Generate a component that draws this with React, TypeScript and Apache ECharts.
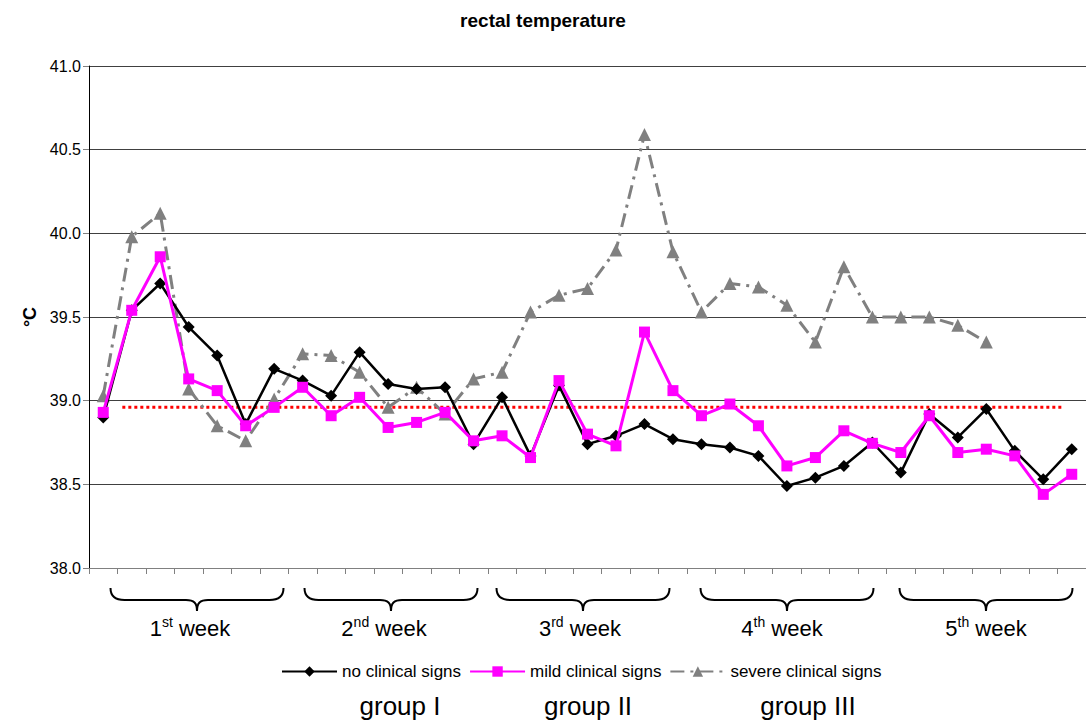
import React, { useEffect, useRef } from "react";
import * as echarts from "echarts";

// ---- data ----
const days = ["1","2","3","4","5","6","7","8","9","10","11","12","13","14","15","16","17","18","19","20","21","22","23","24","25","26","27","28","29","30","31","32","33","34","35"];

const noSigns = [38.90, 39.54, 39.70, 39.44, 39.27, 38.86, 39.19, 39.12, 39.03, 39.29, 39.10, 39.07, 39.08, 38.74, 39.02, 38.67, 39.09, 38.74, 38.79, 38.86, 38.77, 38.74, 38.72, 38.67, 38.49, 38.54, 38.61, 38.75, 38.57, 38.92, 38.78, 38.95, 38.70, 38.53, 38.71];
const mildSigns = [38.93, 39.54, 39.86, 39.13, 39.06, 38.85, 38.96, 39.08, 38.91, 39.02, 38.84, 38.87, 38.93, 38.76, 38.79, 38.66, 39.12, 38.80, 38.73, 39.41, 39.06, 38.91, 38.98, 38.85, 38.61, 38.66, 38.82, 38.745, 38.69, 38.91, 38.69, 38.71, 38.67, 38.44, 38.56];
const severeSigns = [39.03, 39.98, 40.12, 39.07, 38.85, 38.76, 39.01, 39.28, 39.27, 39.17, 38.96, 39.08, 38.92, 39.13, 39.17, 39.53, 39.63, 39.67, 39.90, 40.59, 39.89, 39.53, 39.70, 39.68, 39.57, 39.35, 39.80, 39.50, 39.50, 39.50, 39.45, 39.35, null, null, null];

const seriesNames = ["no clinical signs", "mild clinical signs", "severe clinical signs"];
const referenceTemp = 38.96;
const referenceSpan = [1.17, 34.2]; // in category-width units from the axis start

const yTicks = { min: 38, max: 41, interval: 0.5 };
const weekNumbers = ["1", "2", "3", "4", "5"];
const weekSuffixes = ["st", "nd", "rd", "th", "th"];
const groupLabels = ["group I", "group II", "group III"];

// ---- layout (pixels) ----
const braceCenters = [197, 391, 583, 787, 986];
const weekLabelCenters = [190, 384, 580, 782, 986];
const groupCenters = [400, 588, 808];
const BRACE_W = 173;

const FONT = "'Liberation Sans', Arial, Helvetica, sans-serif";

const W2 = BRACE_W / 2;
const braceD = `M0,0 C0,8 4,12 14,12 L${W2 - 11},12 C${W2 - 3},12 ${W2},15 ${W2},23 C${W2},15 ${W2 + 3},12 ${W2 + 11},12 L${BRACE_W - 14},12 C${BRACE_W - 4},12 ${BRACE_W},8 ${BRACE_W},0`;
echarts.graphic.registerShape("brace", echarts.graphic.extendPath(braceD, {}) as any);

export default function App() {
  const ref = useRef<HTMLDivElement>(null);

  useEffect(() => {
    if (!ref.current) return;
    const chart = echarts.init(ref.current, null, { renderer: "svg" });

    const graphics: any[] = [];
    braceCenters.forEach((cx) => {
      graphics.push({
        type: "brace",
        x: cx - BRACE_W / 2,
        y: 588,
        style: { fill: "none", stroke: "#000", lineWidth: 2 },
        silent: true,
      });
    });
    weekNumbers.forEach((n, i) => {
      graphics.push({
        type: "text",
        x: weekLabelCenters[i],
        y: 628,
        style: {
          text: `{n|${n}}{s|${weekSuffixes[i]}}{n| week}`,
          align: "center",
          verticalAlign: "middle",
          fill: "#000",
          rich: {
            n: { fontSize: 22, fontFamily: FONT, fill: "#000", lineHeight: 26 },
            s: { fontSize: 14, fontFamily: FONT, fill: "#000", verticalAlign: "top", lineHeight: 16 },
          },
        },
      });
    });
    groupLabels.forEach((g, i) => {
      graphics.push({
        type: "text",
        x: groupCenters[i],
        y: 706,
        style: {
          text: g,
          align: "center",
          verticalAlign: "middle",
          fontSize: 26,
          fontFamily: FONT,
          fill: "#000",
        },
      });
    });

    chart.setOption({
      animation: false,
      backgroundColor: "#fff",
      textStyle: { fontFamily: FONT },
      title: {
        text: "rectal temperature",
        left: "center",
        top: 6,
        textStyle: { fontSize: 19, fontWeight: "bold", color: "#000", fontFamily: FONT },
      },
      legend: {
        data: seriesNames,
        left: 281,
        top: 663,
        padding: 0,
        itemWidth: 55,
        itemHeight: 13,
        itemGap: 8,
        textStyle: { fontSize: 17, color: "#000", fontFamily: FONT },
      },
      grid: { left: 89, right: -9, top: 66, bottom: 157 },
      xAxis: [
        {
          type: "category",
          data: days,
          boundaryGap: true,
          axisLine: { lineStyle: { color: "#808080", width: 1 } },
          axisTick: { show: true, length: 6, interval: 0, lineStyle: { color: "#808080" } },
          axisLabel: { show: false },
          splitLine: { show: false },
        },
        {
          type: "value",
          min: 0,
          max: days.length,
          show: false,
        },
      ],
      yAxis: {
        type: "value",
        min: yTicks.min,
        max: yTicks.max,
        interval: yTicks.interval,
        name: "°C",
        nameLocation: "middle",
        nameGap: 50,
        nameTextStyle: { fontSize: 18, fontWeight: "bold", color: "#000", fontFamily: FONT },
        axisLine: { show: true, lineStyle: { color: "#000", width: 1 } },
        axisTick: { show: true, length: 6, lineStyle: { color: "#808080" } },
        axisLabel: {
          fontSize: 16,
          color: "#000",
          margin: 8,
          formatter: (v: number) => v.toFixed(1),
        },
        splitLine: { show: true, lineStyle: { color: "#404040", width: 1 } },
      },
      series: [
        {
          name: "reference",
          type: "line",
          xAxisIndex: 1,
          data: [
            [referenceSpan[0], referenceTemp],
            [referenceSpan[1], referenceTemp],
          ],
          symbol: "none",
          silent: true,
          lineStyle: { color: "#ff0000", width: 3, type: [3, 3], cap: "butt" },
          z: 1,
        },
        {
          name: seriesNames[2],
          type: "line",
          data: severeSigns,
          symbol: "triangle",
          symbolSize: 13,
          connectNulls: false,
          itemStyle: { color: "#808080" },
          lineStyle: { color: "#808080", width: 3, type: [14, 6, 3, 6] },
          z: 2,
        },
        {
          name: seriesNames[0],
          type: "line",
          data: noSigns,
          symbol: "diamond",
          symbolSize: 12,
          itemStyle: { color: "#000" },
          lineStyle: { color: "#000", width: 2.5 },
          z: 3,
        },
        {
          name: seriesNames[1],
          type: "line",
          data: mildSigns,
          symbol: "rect",
          symbolSize: 11,
          itemStyle: { color: "#ff00ff" },
          lineStyle: { color: "#ff00ff", width: 3 },
          z: 4,
        },
      ],
      graphic: graphics,
    });

    return () => chart.dispose();
  }, []);

  return (
    <div
      ref={ref}
      style={{ position: "absolute", left: 0, top: 0, width: 1086, height: 725, background: "#fff" }}
    />
  );
}
